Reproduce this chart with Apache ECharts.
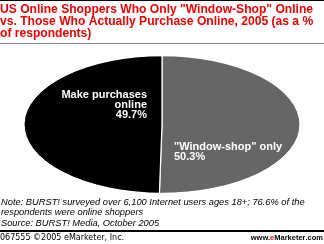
<!DOCTYPE html>
<html><head><meta charset="utf-8">
<script src="https://cdn.jsdelivr.net/npm/echarts@6/dist/echarts.min.js"></script>
<style>
html,body{margin:0;padding:0;background:#fff;}
#wrap{position:relative;width:324px;height:244px;overflow:hidden;}
#pie{position:absolute;left:0;top:56px;width:324px;height:276px;transform:scaleY(0.4964);transform-origin:0 0;}
#ov{position:absolute;left:0;top:0;width:324px;height:244px;}
</style></head>
<body><div id="wrap"><div id="pie"></div><div id="ov"></div></div>
<script>
const categories = ['"Window-shop" only', 'Make purchases\nonline'];
const values = [50.3, 49.7];
const colors = ['#666666', '#000000'];
const titleText = 'US Online Shoppers Who Only "Window-Shop" Online\nvs. Those Who Actually Purchase Online, 2005 (as a %\nof respondents)';
const noteText = 'Note: BURST! surveyed over 6,100 Internet users ages 18+; 76.6% of the\nrespondents were online shoppers\nSource: BURST! Media, October 2005';
const footerLeft = '067555 ©2005 eMarketer, Inc.';

const FONT = 'Liberation Sans';
const FONT2 = 'DejaVu Sans';
const pie = echarts.init(document.getElementById('pie'), null, {renderer:'canvas'});
pie.setOption({
  animation:false,
  series:[{
    type:'pie', center:[162,138], radius:[0,138], startAngle:90, clockwise:true,
    label:{show:false}, labelLine:{show:false},
    itemStyle:{borderColor:'#fff', borderWidth:1.2},
    data: categories.map((c,i)=>({name:c, value:values[i], itemStyle:{color:colors[i]}}))
  }]
});

const ov = echarts.init(document.getElementById('ov'));
ov.setOption({
  animation:false,
  title:[
    {text:titleText, left:0, top:4, padding:0,
     textStyle:{fontFamily:FONT, fontWeight:'bold', fontSize:12.1, color:'#ee0000', lineHeight:11.7}},
    {text:noteText, left:1, top:197, padding:0,
     textStyle:{fontFamily:FONT, fontStyle:'italic', fontWeight:'normal', fontSize:9.3, color:'#000', lineHeight:10.5}},
    {text:footerLeft, left:0, top:233, padding:0,
     textStyle:{fontFamily:FONT2, fontWeight:'normal', fontSize:8, color:'#000', lineHeight:10}},
    {text:'{a|www.}{b|e}{c|Marketer}{a|.com}', right:1, top:233, padding:0,
     textStyle:{rich:{
       a:{fontFamily:FONT, fontSize:7.5, color:'#000', lineHeight:10},
       b:{fontFamily:FONT, fontSize:7.5, fontWeight:'bold', color:'#ee0000', lineHeight:10},
       c:{fontFamily:FONT, fontSize:7.5, fontWeight:'bold', color:'#000', lineHeight:10}}}}
  ],
  graphic:[
    {type:'rect', shape:{x:0,y:0,width:324,height:1}, style:{fill:'#000'}},
    {type:'rect', shape:{x:0,y:43,width:324,height:1}, style:{fill:'#888'}},
    {type:'rect', shape:{x:0,y:230,width:324,height:2}, style:{fill:'#000'}},
    {type:'text', x:147, y:90, style:{text:categories[1]+'\n'+values[1].toFixed(1)+'%', align:'right',
      fill:'#fff', fontFamily:FONT, fontWeight:'bold', fontSize:11, lineHeight:10}},
    {type:'text', x:174, y:142, style:{text:categories[0]+'\n'+values[0].toFixed(1)+'%', align:'left',
      fill:'#fff', fontFamily:FONT, fontWeight:'bold', fontSize:11, lineHeight:10}}
  ]
});
</script></body></html>
